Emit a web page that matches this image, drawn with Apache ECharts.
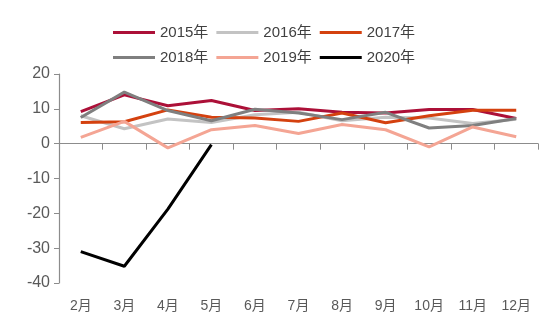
<!DOCTYPE html>
<html><head><meta charset="utf-8">
<script src="https://cdn.jsdelivr.net/npm/echarts@6/dist/echarts.min.js"></script>
<style>html,body{margin:0;padding:0;background:#fff}#c{width:550px;height:325px}</style>
</head><body><div id="c"></div>
<script>
var months = ['2月','3月','4月','5月','6月','7月','8月','9月','10月','11月','12月'];
var seriesNames = ['2015年','2016年','2017年','2018年','2019年','2020年'];
var y2015 = [9.2, 14.0, 10.9, 12.4, 9.5, 10.0, 9.0, 8.8, 9.8, 9.8, 7.2];
var y2016 = [8.0, 4.3, 7.1, 6.1, 8.3, 9.0, 6.6, 7.6, 7.4, 5.8, 7.0];
var y2017 = [6.1, 6.3, 9.7, 7.6, 7.4, 6.4, 8.8, 6.0, 8.0, 9.6, 9.6];
var y2018 = [7.5, 14.8, 9.5, 6.6, 9.9, 8.8, 6.9, 9.0, 4.5, 5.2, 7.2];
var y2019 = [1.8, 6.4, -1.2, 4.0, 5.2, 2.9, 5.5, 4.0, -0.9, 4.8, 2.0];
var y2020 = [-31.0, -35.2, -18.8, -0.3, null, null, null, null, null, null, null];
var yTicks = {min: -40, max: 20, interval: 10};
var colors = ['#AC1038', '#C3C3C3', '#D4410F', '#7F7F7F', '#F4A594', '#000000'];

var allData = [y2015, y2016, y2017, y2018, y2019, y2020];
var font = '"Liberation Sans", Arial, "Noto Sans CJK SC", sans-serif';
var chart = echarts.init(document.getElementById('c'), null, {renderer: 'canvas'});
chart.setOption({
  animation: false,
  color: colors,
  textStyle: {fontFamily: font},
  legend: {
    data: seriesNames,
    top: 19, left: 108, width: 315,
    icon: 'rect', itemWidth: 42, itemHeight: 3, itemGap: 8,
    textStyle: {fontSize: 15, lineHeight: 17, color: '#404040', fontFamily: font}
  },
  grid: {left: 59, right: 12, top: 74, bottom: 42, containLabel: false},
  xAxis: [{
    type: 'category', data: months, position: 'bottom', boundaryGap: true,
    axisLine: {show: false, onZero: false}, axisTick: {show: false},
    axisLabel: {fontSize: 14, color: '#595959', margin: 16, fontFamily: font}
  }, {
    type: 'category', data: months, position: 'bottom', boundaryGap: true,
    axisLine: {show: true, onZero: true, lineStyle: {color: '#8c8c8c', width: 1.2}},
    axisTick: {show: true, inside: false, length: 6, alignWithLabel: false, lineStyle: {color: '#8c8c8c'}},
    axisLabel: {show: false}
  }],
  yAxis: {
    type: 'value', min: yTicks.min, max: yTicks.max, interval: yTicks.interval,
    axisLine: {show: true, lineStyle: {color: '#8c8c8c', width: 1.2}},
    axisTick: {show: true, length: 5, lineStyle: {color: '#8c8c8c'}},
    splitLine: {show: false},
    axisLabel: {fontSize: 16, color: '#595959', margin: 9, fontFamily: font}
  },
  series: seriesNames.map(function (n, i) {
    return {
      name: n, type: 'line', data: allData[i], xAxisIndex: 0,
      symbol: 'none', smooth: false, connectNulls: false,
      lineStyle: {width: 3, color: colors[i]}
    };
  })
});
</script></body></html>
